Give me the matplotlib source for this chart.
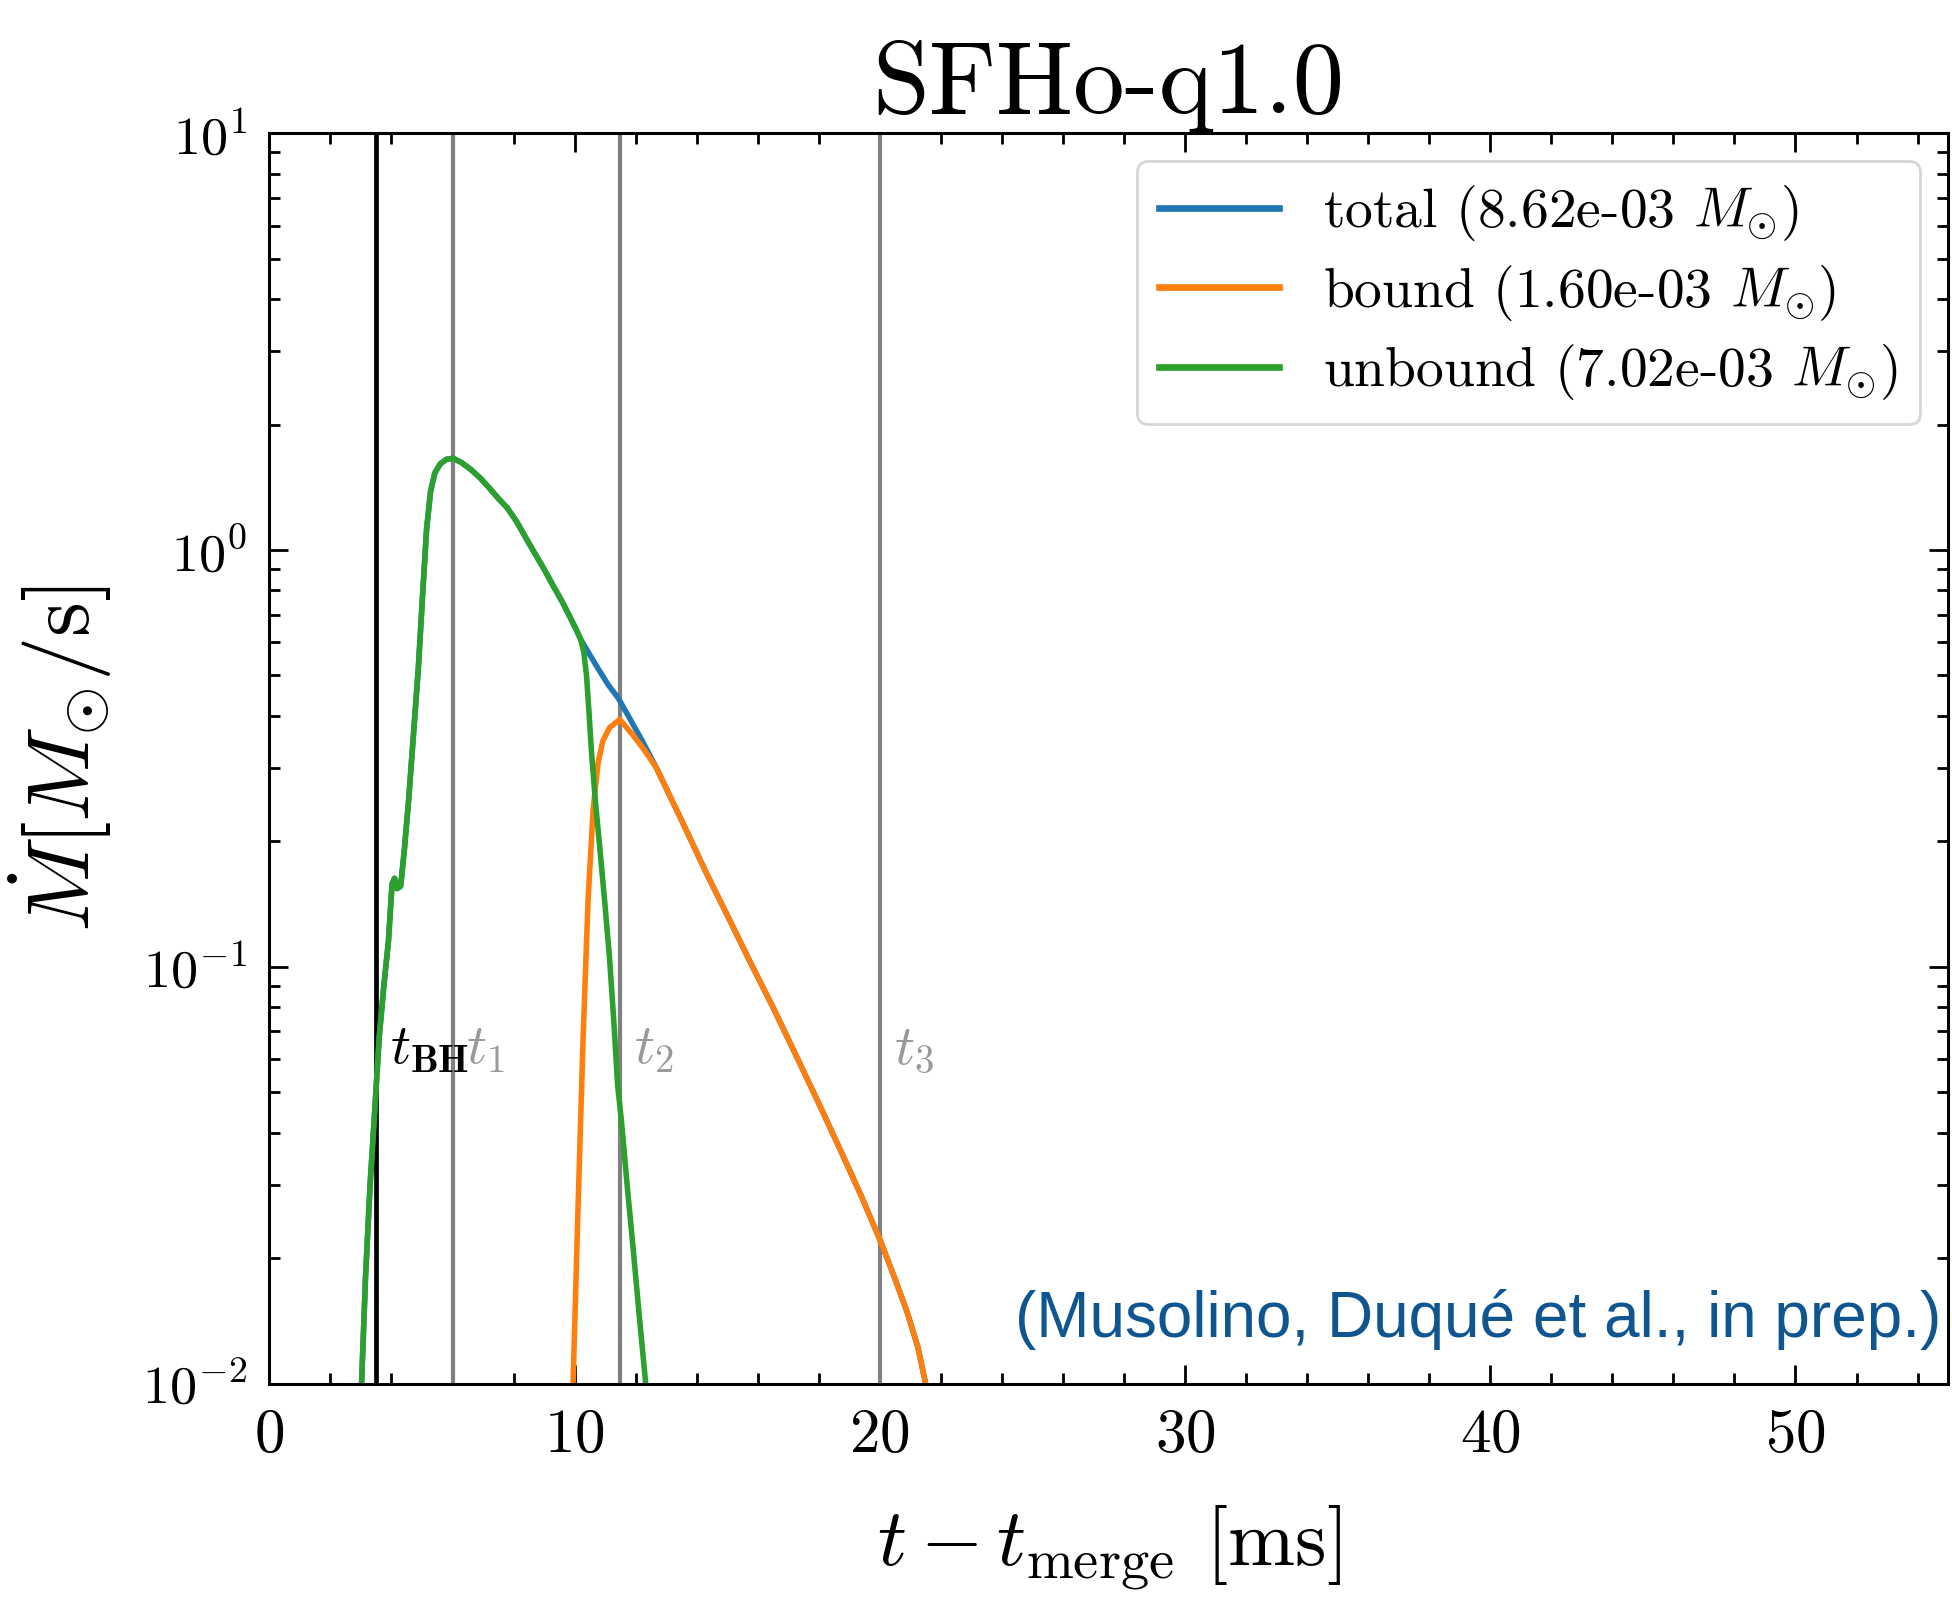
import matplotlib
matplotlib.use('Agg')
import matplotlib.pyplot as plt
from matplotlib.ticker import MultipleLocator, LogLocator, NullFormatter

# event times [ms]
t_bh = 3.5
t_marks = [6.0, 11.5, 20.0]
t_names = [r'$t_1$', r'$t_2$', r'$t_3$']

# unbound ejecta rate
t_unbound = [2.98, 3.02, 3.15, 3.3, 3.45, 3.6, 3.75, 3.9, 4.02, 4.1, 4.18, 4.3,
             4.42, 4.56, 4.72, 4.88, 5.02, 5.15, 5.28, 5.42, 5.6, 5.8, 6.02,
             6.3, 6.6, 6.9, 7.2, 7.5, 7.8, 8.1, 8.4, 8.7, 9.0, 9.3, 9.6, 9.85,
             10.05, 10.2, 10.3, 10.39, 10.47, 10.55, 10.68, 10.82, 10.98, 11.14,
             11.28, 11.41, 11.53, 11.72, 11.92, 12.12, 12.33, 12.4]
m_unbound = [0.008, 0.01, 0.018, 0.03, 0.045, 0.068, 0.09, 0.115, 0.158, 0.163,
             0.154, 0.156, 0.19, 0.25, 0.36, 0.52, 0.78, 1.12, 1.38, 1.53, 1.61,
             1.65, 1.66, 1.62, 1.56, 1.49, 1.41, 1.33, 1.26, 1.17, 1.07, 0.98,
             0.90, 0.82, 0.75, 0.69, 0.645, 0.61, 0.57, 0.50, 0.41, 0.33, 0.25,
             0.195, 0.145, 0.106, 0.075, 0.052, 0.043, 0.03, 0.021, 0.0145,
             0.01, 0.0088]

# bound ejecta rate
t_bound = [9.92, 9.95, 10.11, 10.28, 10.44, 10.61, 10.77, 10.93, 11.15, 11.48,
           11.92, 12.3, 12.68, 13.5, 14.33, 15.0, 15.8, 16.52, 17.3, 18.0,
           18.71, 19.4, 20.04, 20.5, 20.9, 21.25, 21.5, 21.6]
m_bound = [0.008, 0.01, 0.026, 0.068, 0.144, 0.24, 0.309, 0.349, 0.375, 0.392,
           0.359, 0.33, 0.30, 0.225, 0.167, 0.133, 0.101, 0.0794, 0.0603, 0.047,
           0.0363, 0.0281, 0.0218, 0.0178, 0.0148, 0.0122, 0.01, 0.0092]

# total ejecta rate
t_total = [2.98, 3.02, 3.15, 3.3, 3.45, 3.6, 3.75, 3.9, 4.02, 4.1, 4.18, 4.3,
           4.42, 4.56, 4.72, 4.88, 5.02, 5.15, 5.28, 5.42, 5.6, 5.8, 6.02,
           6.3, 6.6, 6.9, 7.2, 7.5, 7.8, 8.1, 8.4, 8.7, 9.0, 9.3, 9.6, 9.85,
           10.05, 10.2, 10.5, 10.8, 11.1, 11.44, 11.8, 12.2, 12.68, 13.5, 14.33,
           15.0, 15.8, 16.52, 17.3, 18.0, 18.71, 19.4, 20.04, 20.5, 20.9, 21.25,
           21.5, 21.6]
m_total = [0.008, 0.01, 0.018, 0.03, 0.045, 0.068, 0.09, 0.115, 0.158, 0.163,
           0.154, 0.156, 0.19, 0.25, 0.36, 0.52, 0.78, 1.12, 1.38, 1.53, 1.61,
           1.65, 1.66, 1.62, 1.56, 1.49, 1.41, 1.33, 1.26, 1.17, 1.07, 0.98,
           0.90, 0.82, 0.75, 0.69, 0.645, 0.61, 0.56, 0.515, 0.475, 0.44, 0.395,
           0.35, 0.30, 0.225, 0.167, 0.133, 0.101, 0.0794, 0.0603, 0.047,
           0.0363, 0.0281, 0.0218, 0.0178, 0.0148, 0.0122, 0.01, 0.0092]

labels = [r'total (8.62e-03 $M_{\odot}$)',
          r'bound (1.60e-03 $M_{\odot}$)',
          r'unbound (7.02e-03 $M_{\odot}$)']

plt.rcParams.update({
    'font.family': 'serif',
    'font.serif': ['cmr10'],
    'mathtext.fontset': 'cm',
    'axes.unicode_minus': False,
    'axes.formatter.use_mathtext': True,
})

fig = plt.figure(figsize=(9.76, 8.025), dpi=200)
ax = fig.add_axes([0.138, 0.138, 0.86, 0.779])

# vertical markers
ax.axvline(t_bh, color='black', lw=1.7)
for tm in t_marks:
    ax.axvline(tm, color='gray', lw=1.5)

ax.plot(t_total, m_total, color='C0', lw=2.0, label=labels[0])
ax.plot(t_bound, m_bound, color='C1', lw=2.0, label=labels[1])
ax.plot(t_unbound, m_unbound, color='C2', lw=2.0, label=labels[2])

ax.text(t_bh + 0.45, 0.063, r'$t_{\mathbf{BH}}$', color='black', fontsize=20,
        va='center')
for tm, nm in zip(t_marks, t_names):
    ax.text(tm + 0.45, 0.063, nm, color='gray', alpha=0.8, fontsize=20,
            va='center')

ax.set_yscale('log')
ax.set_xlim(0, 55)
ax.set_ylim(1e-2, 1e1)
ax.xaxis.set_major_locator(MultipleLocator(10))
ax.xaxis.set_minor_locator(MultipleLocator(2))
ax.yaxis.set_minor_locator(LogLocator(base=10, subs=range(2, 10), numticks=20))
ax.yaxis.set_minor_formatter(NullFormatter())
ax.tick_params(which='both', direction='in', top=True, right=True,
               width=1.0)
ax.tick_params(which='major', length=7, pad=9)
ax.tick_params(which='minor', length=4)
ax.tick_params(axis='x', labelsize=22)
ax.tick_params(axis='y', labelsize=19.5, pad=8)
for sp in ax.spines.values():
    sp.set_linewidth(1.1)

ax.set_xlabel(r'$t - t_{\rm merge}$ [ms]', fontsize=29, labelpad=14)
ax.set_ylabel(r'$\dot{M} [M_{\odot}/{\rm s}]$', fontsize=32, labelpad=10)
ax.set_title('SFHo-q1.0', fontsize=37, pad=6)

leg = ax.legend(loc='upper right', fontsize=20, handlelength=2.15,
                handletextpad=0.8, labelspacing=0.35, borderaxespad=0.5)
for ln in leg.get_lines():
    ln.set_linewidth(2.4)

ax.text(0.996, 0.051, '(Musolino, Duqué et al., in prep.)',
        transform=ax.transAxes, ha='right', va='center', fontsize=23,
        color='#0f5690', family='Liberation Sans')

fig.savefig('out.png', dpi=200)
